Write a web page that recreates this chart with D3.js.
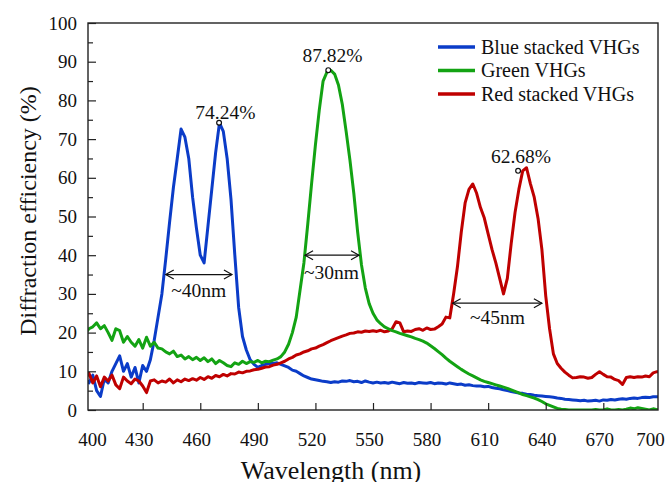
<!DOCTYPE html>
<html>
<head>
<meta charset="utf-8">
<script src="https://cdn.jsdelivr.net/npm/d3@7"></script>
<style>
html, body { margin: 0; padding: 0; background: #ffffff; }
#viewportContainer { width: 666px; height: 482px; }
</style>
</head>
<body>
<div id="viewportContainer"></div>
<script>

/* --- ビューポート --- */
const viewport = {width: 666, height: 482};
const margin = {top: 23, right: 8, bottom: 72, left: 88};



/* --- データセット --- */
// 波長 (nm), 2nm刻み
const wavelength = d3.range(400, 702, 2);

const blueValues = [
8, 7, 9, 5, 3.5, 8, 7, 10, 12, 14,
10, 12, 8.5, 11, 7, 11.5, 10, 13, 18, 24,
30, 39, 48.5, 57.5, 65, 72.6, 70.5, 65, 55, 47,
40, 38, 47.5, 57, 66.5, 74.2, 72, 65, 54.5, 40,
26.5, 19, 15.5, 13, 11.8, 11, 11.5, 11.8, 12, 12,
12.2, 11.8, 11.4, 11, 10.3, 10, 9.4, 8.8, 8.4, 8,
7.8, 7.6, 7.4, 7.3, 7.1, 7.3, 7.2, 7.5, 7.4, 7.6,
7.3, 7.4, 7.1, 7.5, 7.2, 7.0, 7.2, 7.0, 7.1, 6.9,
7.2, 7.0, 6.8, 7.1, 6.9, 7.0, 6.8, 7.1, 7.0, 6.9,
7.1, 6.8, 7.0, 6.9, 6.7, 7.0, 6.8, 6.6, 6.7, 6.4,
6.5, 6.3, 6.2, 6.2, 6.0, 6.1, 5.8, 5.6, 5.5, 5.2,
5.0, 4.8, 4.6, 4.4, 4.3, 4.1, 4.0, 3.8, 3.7, 3.6,
3.5, 3.4, 3.3, 3.1, 3.0, 2.8, 2.7, 2.6, 2.5, 2.4,
2.5, 2.3, 2.4, 2.5, 2.3, 2.6, 2.5, 2.7, 2.6, 2.8,
2.9, 2.8, 3.0, 3.1, 3.0, 3.2, 3.3, 3.2, 3.4, 3.4,
3.5
];

const greenValues = [
19.8, 21, 21.5, 22.5, 21, 21.8, 20, 18, 21, 20.5,
17.5, 19, 17.5, 16.5, 18.2, 16, 18.8, 16.5, 17.5, 16,
15.8, 15, 14.5, 15.2, 13.8, 14.2, 13.2, 13.8, 13, 13.6,
12.8, 13.5, 12.5, 13.2, 12, 12.8, 12.2, 11.5, 11.2, 12.2,
11.8, 12.6, 12, 12.5, 12.3, 12.8, 12.2, 12.6, 12.5, 12.9,
13.2, 13.8, 15, 17, 20, 24, 31, 38, 48, 58.5,
68.5, 77.5, 85, 87.3, 87.8, 86.8, 84, 79, 72, 64.5,
56, 46, 37.5, 31.5, 27.5, 25, 23.3, 22.3, 21.5, 21,
20.5, 20.2, 19.8, 19.5, 19.2, 18.9, 18.5, 18.2, 17.8, 17.3,
16.6, 15.9, 15.1, 14.3, 13.4, 12.6, 11.9, 11.2, 10.5, 9.9,
9.3, 8.8, 8.3, 7.8, 7.4, 7.1, 6.8, 6.5, 6.2, 5.9,
5.6, 5.2, 4.8, 4.4, 4.0, 3.7, 3.4, 3.1, 2.7, 2.2,
1.6, 1.2, 0.8, 0.4, 0.2, 0.1, 0, 0, 0, 0,
0, 0, 0, 0.1, 0, 0, 0.3, 0, 0, 0.1,
0, 0.2, 0.5, 0.3, 0.6, 0.4, 0.2, 0, 0.3, 0.1,
0
];

const redValues = [
8.2, 9.5, 7, 8.8, 6, 8.5, 7.5, 9, 6.5, 5.5,
8.5, 7.5, 6.8, 8, 7.5, 6.2, 4.5, 7.5, 7.8, 7,
7.5, 7.2, 8, 7, 7.8, 7.3, 8, 7.6, 8.1, 7.7,
8.4, 7.9, 8.6, 8.2, 8.9, 8.6, 9.2, 8.8, 9.4, 9.3,
9.8, 9.6, 10, 10.1, 10.4, 10.5, 10.8, 11.1, 11.2, 11.6,
11.8, 12.2, 12.6, 13.2, 13.6, 14.2, 14.5, 15, 15.3, 15.8,
16, 16.5, 16.9, 17.4, 17.9, 18.3, 18.7, 19.1, 19.4, 19.8,
19.9, 20.2, 20.1, 20.4, 20.3, 20.5, 20.3, 20.6, 20.2, 20.4,
21, 22.8, 22.5, 20.2, 20.4, 20.3, 20.8, 21, 20.6, 21.2,
20.8, 20.9, 21.5, 22.2, 24, 23.8, 30, 37, 46, 53.5,
57, 58.4, 56, 52.3, 49.6, 45.5, 41.5, 38, 34, 30,
34, 43, 51, 57, 61.8, 62.6, 58.5, 55, 49.5, 41.5,
29.5, 21, 14.5, 12, 10.8, 9.8, 9.0, 8.3, 8.4, 8.6,
8.5, 8.2, 8.4, 9.2, 9.9, 9.2, 8.6, 8.5, 7.9, 7.6,
6.6, 8.4, 8.6, 8.4, 8.6, 8.5, 8.8, 8.6, 9.6, 9.9,
9.9
];

// 系列名
const seriesNames = ["Blue stacked VHGs", "Green VHGs", "Red stacked VHGs"];

// 軸の目盛り
const xTicks = [400, 430, 460, 490, 520, 550, 580, 610, 640, 670, 700];
const yTicks = [0, 10, 20, 30, 40, 50, 60, 70, 80, 90, 100];
const yMinorTicks = [5, 15, 25, 35, 45, 55, 65, 75, 85, 95];

// ピーク値の注記 [波長, 値] / [波長, 値, ラベル]
const peakMarks = [[469.8, 74.24], [526.7, 87.82], [625.6, 61.8]];
const peakLabels = [[473.1, 75.3, "74.24%"], [528.9, 89.8, "87.82%"], [627.1, 63.9, "62.68%"]];

// 帯域幅の矢印 [開始, 終了, 値] とラベル
const bandArrows = [[442, 476.5, 35], [514.6, 542.7, 40], [591.5, 638, 27.6]];
const bandLabels = [[459.2, 29.2, "~40nm"], [528.4, 33.9, "~30nm"], [614.8, 22.2, "~45nm"]];



/* --- スケール --- */
const xScale = d3.scaleLinear().domain([401.5, 698.5]).range([margin.left, viewport.width - margin.right]);
const yScale = d3.scaleLinear().domain([0, 100]).range([viewport.height - margin.bottom, margin.top]);
const colorScale = d3.scaleOrdinal().domain(seriesNames).range(["#0b3cc8", "#13a313", "#bf0000"]);

const serifFont = "'Liberation Serif', serif";

let svg, chartContainer;



let initViewport = function() {

    /*--- SVG作成 ---*/
    svg = d3.select("#viewportContainer")
        .append("svg")
        .attr("width", viewport.width)
        .attr("height", viewport.height)
        .attr("viewBox", "0 0 " + viewport.width + " " + viewport.height);

    const defs = svg.append("defs");

    defs.append("clipPath")
        .attr("id", "plotClip")
        .append("rect")
        .attr("x", xScale.range()[0])
        .attr("y", yScale.range()[1])
        .attr("width", xScale.range()[1] - xScale.range()[0])
        .attr("height", yScale.range()[0] - yScale.range()[1]);

    defs.append("marker")
        .attr("id", "arrowHead")
        .attr("viewBox", "-1 -6 11 12")
        .attr("refX", 8)
        .attr("refY", 0)
        .attr("markerUnits", "userSpaceOnUse")
        .attr("markerWidth", 11)
        .attr("markerHeight", 12)
        .attr("orient", "auto-start-reverse")
        .append("path")
        .attr("d", "M0,-4.5L8,0L0,4.5")
        .attr("fill", "none")
        .attr("stroke", "#111")
        .attr("stroke-width", 1.2);

    chartContainer = svg.append("g")
        .attr("clip-path", "url(#plotClip)");
};



let drawAxis = function() {

    const bottom = yScale.range()[0];
    const left = xScale.range()[0];

    /*--- Y軸 ---*/
    svg.append("g")
        .attr("transform", "translate(" + left + ",0)")
        .call(d3.axisLeft(yScale).tickValues(yTicks).tickSize(-8).tickPadding(11));

    svg.append("g")
        .attr("transform", "translate(" + left + ",0)")
        .call(d3.axisLeft(yScale).tickValues(yMinorTicks).tickSize(-5).tickFormat(""));

    /*--- X軸 ---*/
    const xAxis = svg.append("g")
        .attr("transform", "translate(0," + bottom + ")")
        .call(d3.axisBottom(xScale).tickValues(xTicks).tickSize(-7).tickPadding(23));

    xAxis.selectAll(".tick line")
        .filter(function(d) { return d === 400 || d === 700; })
        .remove();

    // 目盛りラベルは元図では少し左寄り
    xAxis.selectAll(".tick text")
        .attr("dx", function(d) { return d === 400 ? 7 : (d === 700 ? -11 : -4); });

    svg.selectAll(".domain").remove();
    svg.selectAll(".tick line").attr("stroke", "#222").attr("stroke-width", 1.2);
    svg.selectAll(".tick text")
        .attr("font-size", 19)
        .attr("fill", "#111");

    /*--- 枠 ---*/
    svg.append("rect")
        .attr("x", left)
        .attr("y", yScale.range()[1])
        .attr("width", xScale.range()[1] - left)
        .attr("height", bottom - yScale.range()[1])
        .attr("fill", "none")
        .attr("stroke", "#222")
        .attr("stroke-width", 1.4);

    /*--- 軸タイトル ---*/
    svg.append("text")
        .attr("x", 331)
        .attr("y", 479)
        .attr("text-anchor", "middle")
        .attr("font-size", 26)
        .text("Wavelength (nm)");

    svg.append("text")
        .attr("transform", "translate(36," + 211 + ") rotate(-90)")
        .attr("text-anchor", "middle")
        .attr("font-size", 24)
        .text("Diffraction efficiency (%)");
};



let drawCharts = function() {

    const allSeries = [
        {name: seriesNames[0], values: blueValues},
        {name: seriesNames[2], values: redValues},
        {name: seriesNames[1], values: greenValues}
    ];

    const line = d3.line()
        .x(function(d, i) { return xScale(wavelength[i]); })
        .y(function(d) { return yScale(d); });

    /*--- 曲線 ---*/
    chartContainer.selectAll(".spectrum")
        .data(allSeries)
        .enter()
        .append("path")
        .attr("class", "spectrum")
        .attr("fill", "none")
        .attr("stroke", function(d) { return colorScale(d.name); })
        .attr("stroke-width", 3)
        .attr("stroke-linejoin", "round")
        .attr("d", function(d) { return line(d.values); });

    /*--- 帯域幅の矢印 ---*/
    svg.selectAll(".band")
        .data(bandArrows)
        .enter()
        .append("line")
        .attr("class", "band")
        .attr("x1", function(d) { return xScale(d[0]); })
        .attr("x2", function(d) { return xScale(d[1]); })
        .attr("y1", function(d) { return yScale(d[2]); })
        .attr("y2", function(d) { return yScale(d[2]); })
        .attr("stroke", "#111")
        .attr("stroke-width", 1.2)
        .attr("marker-start", "url(#arrowHead)")
        .attr("marker-end", "url(#arrowHead)");

    svg.selectAll(".bandLabel")
        .data(bandLabels)
        .enter()
        .append("text")
        .attr("class", "bandLabel")
        .attr("x", function(d) { return xScale(d[0]); })
        .attr("y", function(d) { return yScale(d[1]); })
        .attr("text-anchor", "middle")
        .attr("font-size", 19.5)
        .text(function(d) { return d[2]; });

    /*--- ピーク注記 ---*/
    svg.selectAll(".peakMark")
        .data(peakMarks)
        .enter()
        .append("circle")
        .attr("class", "peakMark")
        .attr("cx", function(d) { return xScale(d[0]); })
        .attr("cy", function(d) { return yScale(d[1]); })
        .attr("r", 2.4)
        .attr("fill", "#fff")
        .attr("stroke", "#111")
        .attr("stroke-width", 1.2);

    svg.selectAll(".peakLabel")
        .data(peakLabels)
        .enter()
        .append("text")
        .attr("class", "peakLabel")
        .attr("x", function(d) { return xScale(d[0]); })
        .attr("y", function(d) { return yScale(d[1]); })
        .attr("text-anchor", "middle")
        .attr("font-size", 19.5)
        .text(function(d) { return d[2]; });

    /*--- 凡例 ---*/
    const legend = svg.append("g")
        .attr("transform", "translate(438,47)");

    const item = legend.selectAll(".legendItem")
        .data(seriesNames)
        .enter()
        .append("g")
        .attr("class", "legendItem")
        .attr("transform", function(d, i) { return "translate(0," + (i * 23.5) + ")"; });

    item.append("line")
        .attr("x1", 0)
        .attr("x2", 37)
        .attr("stroke", function(d) { return colorScale(d); })
        .attr("stroke-width", 3.5);

    item.append("text")
        .attr("x", 43)
        .attr("y", 6.5)
        .attr("font-size", 20)
        .text(function(d) { return d; });

    /*--- フォント ---*/
    svg.selectAll("g").attr("font-family", null);
    svg.selectAll("text")
        .style("font-family", serifFont)
        .style("fill", "#111");
};



initViewport();
drawAxis();
drawCharts();

</script>
</body>
</html>
